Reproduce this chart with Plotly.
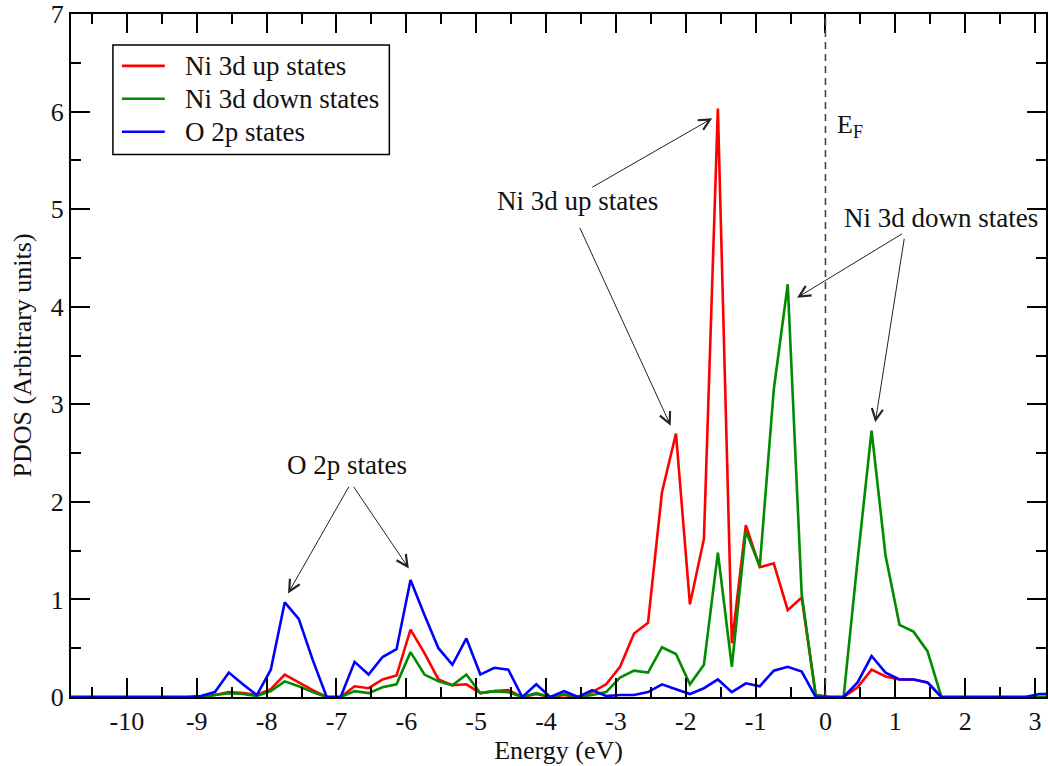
import plotly.graph_objects as go

# Energy grid (eV) of the projected density of states
energy = [
    -10.94, -10.74, -10.54, -10.34, -10.14, -9.94, -9.74, -9.54, -9.34, -9.14,
    -8.94, -8.74, -8.54, -8.34, -8.14, -7.94, -7.74, -7.54, -7.34, -7.14,
    -6.94, -6.74, -6.54, -6.34, -6.14, -5.94, -5.74, -5.54, -5.34, -5.14,
    -4.94, -4.74, -4.54, -4.34, -4.14, -3.94, -3.74, -3.54, -3.34, -3.14,
    -2.94, -2.74, -2.54, -2.34, -2.14, -1.94, -1.74, -1.54, -1.34, -1.14,
    -0.94, -0.74, -0.54, -0.34, -0.14, 0.06, 0.26, 0.46, 0.66, 0.86,
    1.06, 1.26, 1.46, 1.66, 1.86, 2.06, 2.26, 2.46, 2.66, 2.86,
    3.06, 3.26,
]

ni_3d_up = [
    0, 0, 0, 0, 0, 0, 0, 0, 0, 0,
    0.00, 0.02, 0.05, 0.04, 0.02, 0.08, 0.23, 0.15, 0.07, 0.00,
    0.00, 0.11, 0.09, 0.18, 0.22, 0.69, 0.45, 0.18, 0.12, 0.13,
    0.04, 0.06, 0.07, 0.00, 0.03, 0.00, 0.02, 0.00, 0.05, 0.13,
    0.31, 0.65, 0.76, 2.10, 2.70, 0.95, 1.62, 6.03, 0.55, 1.76,
    1.33, 1.37, 0.89, 1.02, 0.02, 0.00, 0.00, 0.10, 0.28, 0.21,
    0.18, 0.18, 0.15, 0.00, 0, 0, 0, 0, 0, 0,
    0, 0,
]

ni_3d_down = [
    0, 0, 0, 0, 0, 0, 0, 0, 0, 0,
    0.00, 0.02, 0.04, 0.03, 0.01, 0.06, 0.16, 0.11, 0.05, 0.00,
    0.00, 0.06, 0.04, 0.10, 0.13, 0.46, 0.23, 0.16, 0.12, 0.23,
    0.04, 0.06, 0.05, 0.00, 0.04, 0.00, 0.03, 0.00, 0.02, 0.05,
    0.20, 0.27, 0.25, 0.51, 0.44, 0.13, 0.33, 1.48, 0.31, 1.70,
    1.34, 3.15, 4.23, 1.05, 0.02, 0.00, 0.00, 1.40, 2.73, 1.45,
    0.74, 0.67, 0.47, 0.00, 0, 0, 0, 0, 0, 0,
    0, 0,
]

o_2p = [
    0, 0, 0, 0, 0, 0, 0, 0, 0, 0,
    0.01, 0.05, 0.25, 0.13, 0.02, 0.28, 0.97, 0.80, 0.38, 0.00,
    0.00, 0.36, 0.23, 0.41, 0.49, 1.20, 0.84, 0.50, 0.33, 0.60,
    0.23, 0.30, 0.28, 0.00, 0.13, 0.00, 0.06, 0.00, 0.07, 0.01,
    0.02, 0.02, 0.05, 0.13, 0.08, 0.03, 0.09, 0.18, 0.05, 0.14,
    0.11, 0.27, 0.31, 0.26, 0.00, 0.00, 0.00, 0.15, 0.42, 0.25,
    0.18, 0.18, 0.15, 0.00, 0, 0, 0, 0, 0, 0,
    0.03, 0.03,
]

x_tick_values = [-10, -9, -8, -7, -6, -5, -4, -3, -2, -1, 0, 1, 2, 3]
x_tick_labels = ["-10", "-9", "-8", "-7", "-6", "-5", "-4", "-3", "-2", "-1", "0", "1", "2", "3"]
y_tick_values = [0, 1, 2, 3, 4, 5, 6, 7]

series = [
    ("Ni 3d up states", ni_3d_up, "#ff0000"),
    ("Ni 3d down states", ni_3d_down, "#008b00"),
    ("O 2p states", o_2p, "#0000ff"),
]

FONT = "Liberation Serif"
INK = "#111111"

fig = go.Figure()
for name, values, color in series:
    fig.add_trace(go.Scatter(
        x=energy, y=values, name=name, mode="lines",
        line=dict(color=color, width=2.6), showlegend=False,
    ))

axis_common = dict(
    showline=True, linecolor="black", linewidth=2, mirror="allticks",
    ticks="inside", ticklen=19, tickwidth=1.6, tickcolor="black",
    showgrid=False, zeroline=False, ticklabeloverflow="allow",
    tickfont=dict(family=FONT, size=26, color=INK),
    title_font=dict(family=FONT, size=26, color=INK),
)

fig.update_xaxes(
    range=[-10.8, 3.157], tickmode="array",
    tickvals=x_tick_values, ticktext=x_tick_labels,
    minor=dict(dtick=0.5, tick0=0, ticks="inside", ticklen=10,
               tickwidth=1.6, tickcolor="black"),
    title_text="Energy (eV)", title_standoff=4,
    **axis_common,
)
fig.update_yaxes(
    range=[0, 7], tickmode="array", tickvals=y_tick_values,
    minor=dict(dtick=0.5, tick0=0, ticks="inside", ticklen=10,
               tickwidth=1.6, tickcolor="black"),
    title_text="PDOS (Arbitrary units)", title_standoff=12,
    **axis_common,
)

# Fermi level marker
fig.add_shape(type="line", xref="x", yref="paper", x0=0, x1=0, y0=0, y1=1,
              line=dict(color="#444444", width=1.6, dash="7px,5px"), layer="above")

fig.add_annotation(x=0.13, y=5.85, xref="x", yref="y", xanchor="left",
                   text="E<sub>F</sub>", showarrow=False,
                   font=dict(family=FONT, size=26, color=INK))

# Labels with pointer arrows
labels = [
    ("O 2p states", -6.854, 2.375),
    ("Ni 3d up states", -3.554, 5.08),
    ("Ni 3d down states", 1.66, 4.905),
]
for text, lx, ly in labels:
    fig.add_annotation(x=lx, y=ly, xref="x", yref="y", text=text, showarrow=False,
                       font=dict(family=FONT, size=27, color=INK))

arrows = [
    # (tip_x, tip_y, tail_x, tail_y)
    (-7.693, 1.062, -6.811, 2.17),
    (-5.964, 1.318, -6.769, 2.17),
    (-1.621, 5.931, -3.359, 5.216),
    (-2.216, 2.781, -3.526, 4.824),
    (-0.407, 4.092, 1.117, 4.756),
    (0.713, 2.815, 1.131, 4.712),
]
for tx, ty, sx, sy in arrows:
    fig.add_annotation(x=tx, y=ty, ax=sx, ay=sy, xref="x", yref="y",
                       axref="x", ayref="y", text="", showarrow=True,
                       arrowhead=5, arrowsize=2.2, arrowwidth=1,
                       arrowcolor="#222222", standoff=0, startstandoff=0)

# Boxed key in the upper-left corner, one row per series
fig.add_shape(type="rect", xref="paper", yref="paper",
              x0=0.043, x1=0.3265, y0=0.7942, y1=0.9547,
              line=dict(color="black", width=1.5), fillcolor="white", layer="above")
row_y = [0.9241, 0.8759, 0.8277]
for (name, _, color), ry in zip(series, row_y):
    fig.add_shape(type="line", xref="paper", yref="paper",
                  x0=0.0522, x1=0.0962, y0=ry, y1=ry,
                  line=dict(color=color, width=2.6), layer="above")
    fig.add_annotation(x=0.1146, y=ry, xref="paper", yref="paper",
                       xanchor="left", yanchor="middle", text=name, showarrow=False,
                       font=dict(family=FONT, size=27, color=INK))

fig.update_layout(
    width=1048, height=766,
    margin=dict(l=71, r=0, t=12, b=69),
    paper_bgcolor="white", plot_bgcolor="white",
    font=dict(family=FONT, size=26, color=INK),
)

fig.write_html("out.html")
